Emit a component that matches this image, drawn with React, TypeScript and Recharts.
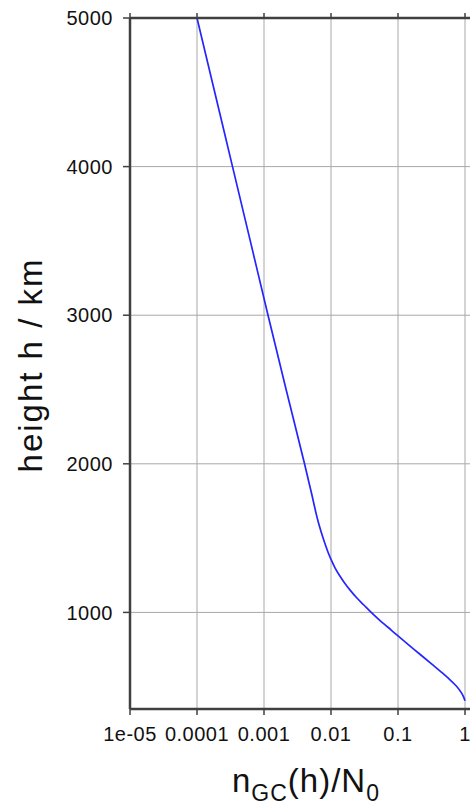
import React from 'react';
import { LineChart, Line, XAxis, YAxis, CartesianGrid } from 'recharts';

// Height above ground (km) and the matching normalised density n_GC(h)/N_0
const heightsKm = [405, 430, 460, 500, 550, 600, 650, 700, 750, 800, 850, 900, 950, 1000, 1050, 1100, 1150, 1200, 1250, 1300, 1350, 1400, 1500, 1600, 1800, 2000, 2500, 3000, 3500, 4000, 4500, 5000];
const densityRatio = [1.0, 0.955, 0.881, 0.7586, 0.5861, 0.4385, 0.3236, 0.2382, 0.175, 0.1288, 0.09506, 0.07079, 0.05248, 0.03981, 0.0309, 0.02399, 0.01928, 0.01585, 0.01334, 0.01148, 0.010163, 0.00912, 0.007621, 0.006531, 0.005129, 0.004027, 0.002138, 0.001148, 0.000624, 0.000339, 0.000184, 0.0001];

const xTicks = [1e-5, 1e-4, 1e-3, 1e-2, 1e-1, 1, 10];
const xTickLabels = ['1e-05', '0.0001', '0.001', '0.01', '0.1', '1', '10'];
const yTicks = [1000, 2000, 3000, 4000, 5000];

const data = heightsKm.map((h, i) => ({ h, n: densityRatio[i] }));

const FONT = '"Liberation Sans", Arial, Helvetica, sans-serif';
const AXIS = '#404040';
const GRID = '#a8a8a8';

const labelFor = (v: number) =>
  xTickLabels[xTicks.findIndex((t) => Math.abs(Math.log10(t) - Math.log10(v)) < 1e-6)];

const xLabel = (props: any) => {
  const vb = props.viewBox;
  const x = vb.x + 176;
  const y = vb.y + 83;
  return (
    <text x={x} y={y} textAnchor="middle" fontFamily={FONT} fontSize={33} fill="#111" letterSpacing={1}>
      <tspan>n</tspan>
      <tspan fontSize={23} dy={9}>GC</tspan>
      <tspan dy={-9}>(h)/N</tspan>
      <tspan fontSize={23} dy={9}>0</tspan>
    </text>
  );
};

const yLabel = () => (
  <text
    x={41.5}
    y={365}
    transform="rotate(-90, 41.5, 365)"
    textAnchor="middle"
    fontFamily={FONT}
    fontSize={33}
    fill="#111"
    letterSpacing={2}
  >
    height h / km
  </text>
);

const tickStyle = { fontFamily: FONT, fontSize: 20, fill: '#111', letterSpacing: 0.5 };

export default function App() {
  return (
    <div style={{ position: 'absolute', left: 0, top: 0, width: 470, height: 806, overflow: 'hidden', background: '#fff' }}>
      <LineChart
        width={540}
        height={806}
        data={data}
        layout="vertical"
        margin={{ top: 17, right: 8, bottom: 0, left: 0 }}
      >
        <CartesianGrid stroke={GRID} strokeWidth={1} horizontal vertical />
        <XAxis
          type="number"
          dataKey="n"
          scale="log"
          domain={[1e-5, 10]}
          ticks={xTicks}
          tickFormatter={labelFor}
          allowDataOverflow
          height={97}
          axisLine={{ stroke: AXIS, strokeWidth: 2.5 }}
          tickLine={{ stroke: AXIS, strokeWidth: 1.5 }}
          tickSize={6}
          tickMargin={12}
          tick={tickStyle}
          interval={0}
          label={xLabel}
        />
        <XAxis
          xAxisId="top"
          orientation="top"
          type="number"
          dataKey="n"
          scale="log"
          domain={[1e-5, 10]}
          ticks={xTicks}
          tickFormatter={() => ''}
          allowDataOverflow
          height={1}
          axisLine={{ stroke: AXIS, strokeWidth: 2.5 }}
          tickLine={{ stroke: AXIS, strokeWidth: 1.5 }}
          tickSize={5}
          interval={0}
        />
        <YAxis
          type="number"
          dataKey="h"
          domain={[350, 5000]}
          ticks={yTicks}
          reversed
          allowDataOverflow
          width={130}
          axisLine={{ stroke: AXIS, strokeWidth: 2.5 }}
          tickLine={{ stroke: AXIS, strokeWidth: 1.5 }}
          tickSize={7}
          tickMargin={10}
          tick={tickStyle}
          interval={0}
          label={yLabel}
        />
        <Line
          type="monotone"
          dataKey="n"
          stroke="#2525ff"
          strokeWidth={1.7}
          dot={false}
          isAnimationActive={false}
        />
      </LineChart>
    </div>
  );
}
